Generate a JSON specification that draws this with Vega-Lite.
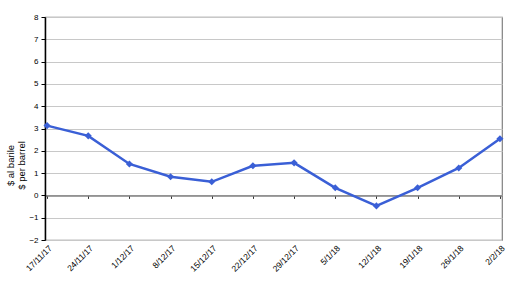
{
  "$schema": "https://vega.github.io/schema/vega-lite/v6.json",
  "autosize": "none",
  "width": 457,
  "height": 223,
  "padding": {"left": 45, "top": 17, "right": 11, "bottom": 43},
  "background": "white",
  "config": {
    "font": "Liberation Sans",
    "view": {"stroke": "#808080", "strokeWidth": 1.2}
  },
  "data": {
    "values": [
      {"date": "17/11/17", "v": 3.13},
      {"date": "24/11/17", "v": 2.67},
      {"date": "1/12/17", "v": 1.41},
      {"date": "8/12/17", "v": 0.84},
      {"date": "15/12/17", "v": 0.61},
      {"date": "22/12/17", "v": 1.33},
      {"date": "29/12/17", "v": 1.46},
      {"date": "5/1/18", "v": 0.34},
      {"date": "12/1/18", "v": -0.47},
      {"date": "19/1/18", "v": 0.34},
      {"date": "26/1/18", "v": 1.23},
      {"date": "2/2/18", "v": 2.54}
    ]
  },
  "mark": {"type": "line", "color": "#3A5FD6", "strokeWidth": 2.5,
    "point": {"shape": "diamond", "filled": true, "size": 50, "color": "#3A5FD6"}},
  "encoding": {
    "x": {
      "field": "date", "type": "ordinal", "sort": null,
      "scale": {"type": "point", "padding": 0.05},
      "axis": {
        "title": null, "labelAngle": -45, "labelAlign": "right", "labelBaseline": "top",
        "labelFontSize": 8.5, "labelColor": "#000",
        "ticks": true, "tickSize": 3, "tickColor": "#333", "tickWidth": 1,
        "offset": -44.6, "labelPadding": 45,
        "domain": true, "domainColor": "#808080", "domainWidth": 1.5, "grid": false, "zindex": 0
      }
    },
    "y": {
      "field": "v", "type": "quantitative",
      "scale": {"domain": [-2, 8], "nice": false, "zero": false},
      "axis": {
        "values": [-2, -1, 0, 1, 2, 3, 4, 5, 6, 7, 8],
        "labelOverlap": false,
        "title": ["$ al barile", "$ per barrel"],
        "titleFontSize": 9.5, "titleFontWeight": "normal", "titleColor": "#000",
        "titlePadding": 2, "titleY": 148,
        "labelFontSize": 8, "labelColor": "#000", "labelPadding": 3,
        "tickSize": 4, "tickColor": "#000",
        "domainColor": "#000", "domainWidth": 1.5,
        "grid": true, "gridColor": "#c8c8c8", "gridWidth": 1.2
      }
    }
  }
}
